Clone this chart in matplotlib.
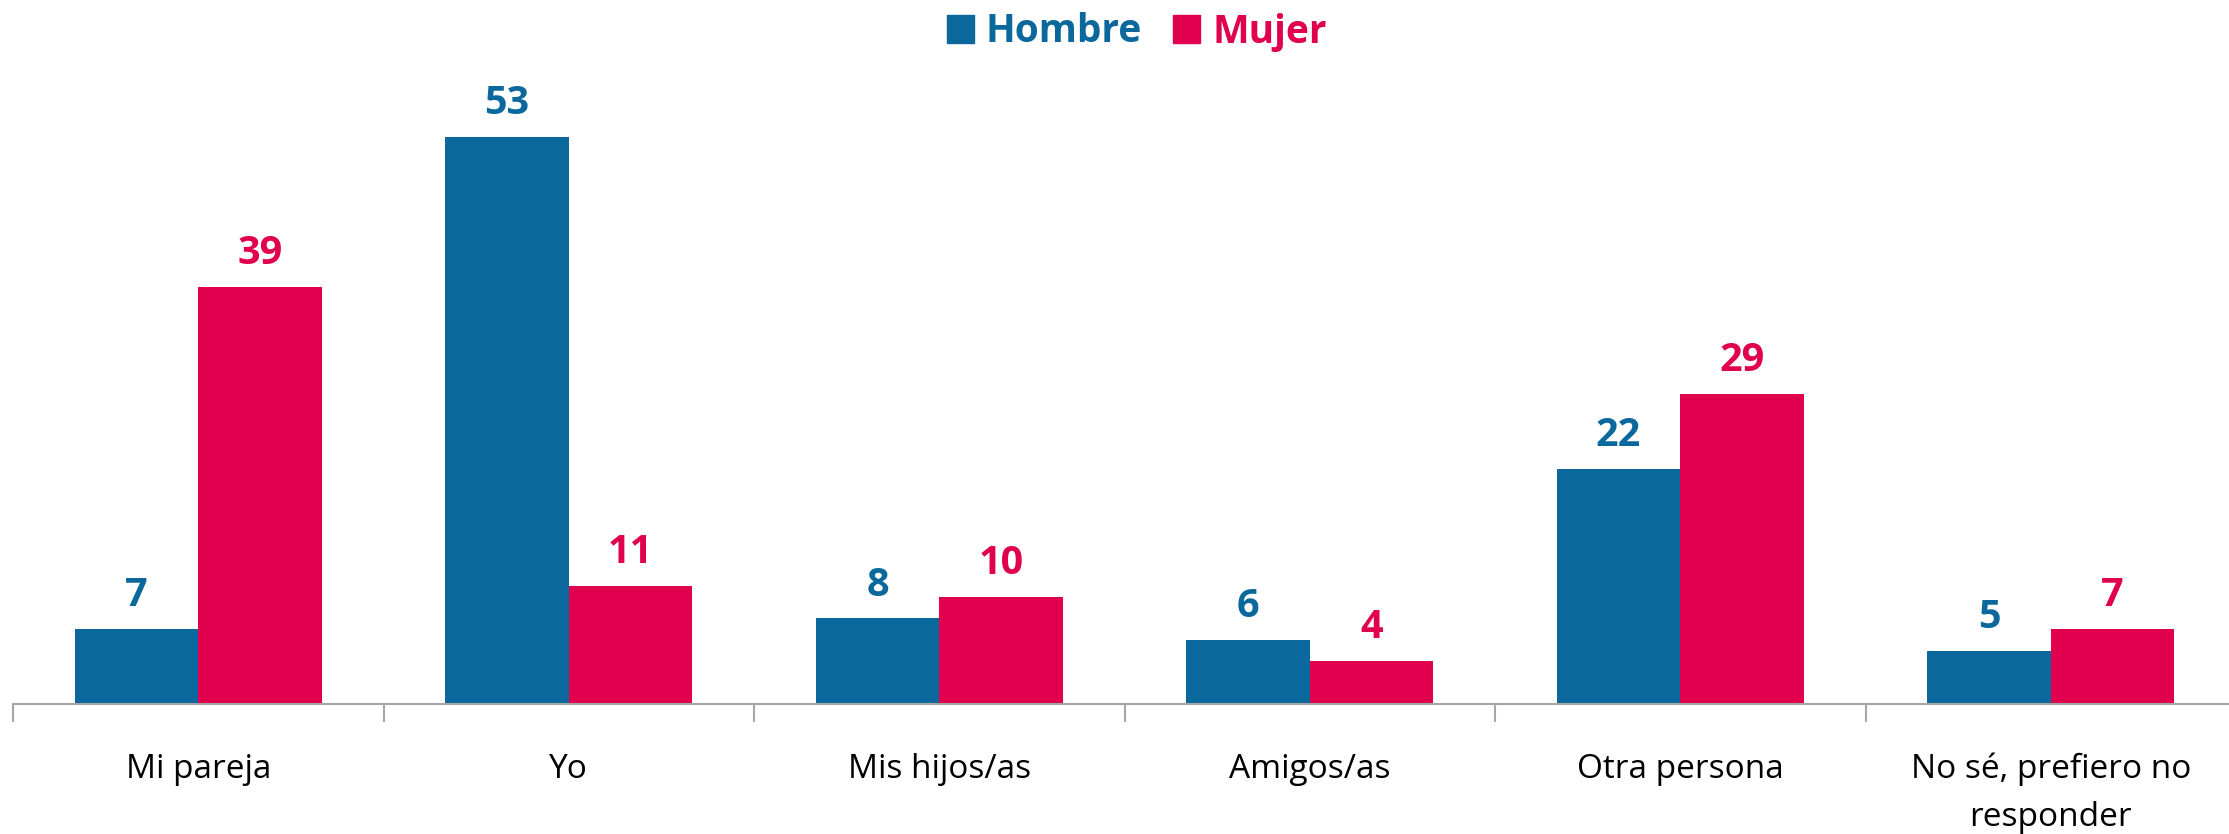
import numpy as np
import matplotlib.pyplot as plt
from matplotlib.patches import Patch

# Datos
categorias = ['Mi pareja', 'Yo', 'Mis hijos/as', 'Amigos/as', 'Otra persona',
              'No sé, prefiero no\nresponder']
hombre = [7, 53, 8, 6, 22, 5]
mujer = [39, 11, 10, 4, 29, 7]

c_hombre = '#0B689C'
c_mujer = '#E0004D'
plt.rcParams['font.family'] = ['Open Sans', 'DejaVu Sans']

fig = plt.figure(figsize=(22.29, 8.34), dpi=100)
# ejes colocados a mano para que la línea base quede donde en el original
ax = fig.add_axes([13 / 2229, 130 / 834, 6 * 370.5 / 2229, 642 / 834])

x = np.arange(len(categorias))
w = 1 / 3
b1 = ax.bar(x - w / 2, hombre, w, color=c_hombre, label='Hombre')
b2 = ax.bar(x + w / 2, mujer, w, color=c_mujer, label='Mujer')

for barras, col in ((b1, c_hombre), (b2, c_mujer)):
    ax.bar_label(barras, padding=10, color=col, fontsize=28.5, fontweight='bold')

ax.set_xlim(-0.5, len(categorias) - 0.5)
ax.set_ylim(0, 60)
ax.set_yticks([])
for s in ('top', 'right', 'left'):
    ax.spines[s].set_visible(False)
ax.spines['bottom'].set_color('#A6A6A6')
ax.spines['bottom'].set_linewidth(1.5)

ax.set_xticks(x)
ax.set_xticklabels(categorias, fontsize=24, linespacing=1.6, va='top')
ax.tick_params(axis='x', which='major', length=0, pad=35)
ax.set_xticks(np.arange(len(categorias)) - 0.5, minor=True)
ax.tick_params(axis='x', which='minor', length=13, color='#A6A6A6', width=1.5)

handles = [Patch(color=c_hombre, label='Hombre'), Patch(color=c_mujer, label='Mujer')]
leg = fig.legend(handles=handles, loc='center', bbox_to_anchor=(0.51, 1 - 32 / 834),
                 ncol=2, frameon=False, prop={'size': 28, 'weight': 'bold'},
                 handlelength=0.7, handleheight=0.7, handletextpad=0.3,
                 columnspacing=0.8)
for t, col in zip(leg.get_texts(), (c_hombre, c_mujer)):
    t.set_color(col)

fig.savefig('out.png', dpi=100)
